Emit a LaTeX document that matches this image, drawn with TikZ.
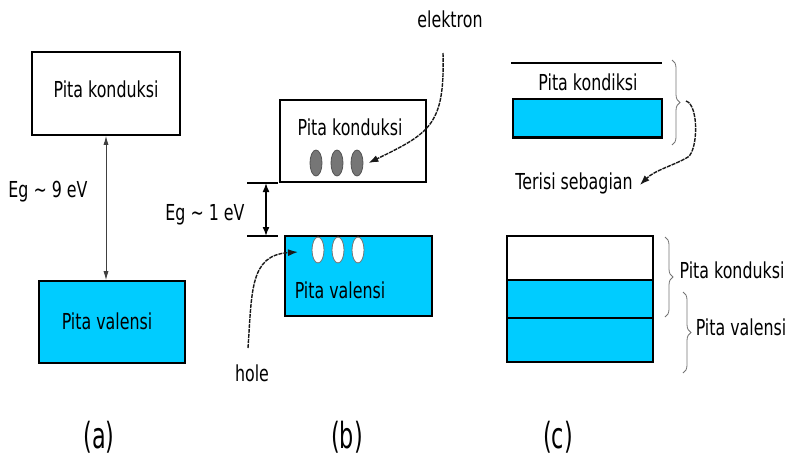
\documentclass[tikz,border=0pt]{standalone}
\usepackage{fontspec}
\setmainfont{DejaVu Sans}[FakeStretch=0.72]
\newfontfamily\capfont{DejaVu Sans}[FakeStretch=0.62]
\usetikzlibrary{arrows.meta,decorations.pathreplacing,calc,shapes.geometric}
\definecolor{bandblue}{RGB}{0,204,255}
\definecolor{egray}{RGB}{118,118,118}
\begin{document}
\begin{tikzpicture}[x=1pt,y=-1pt,
  band/.style={draw=black, line width=1.6pt, inner sep=0pt},
  blueband/.style={band, fill=bandblue},
  txt/.style={font=\fontsize{22}{26}\selectfont, inner sep=0pt},
  caption/.style={font=\capfont\fontsize{36}{40}\selectfont, inner sep=0pt},
  electron/.style={ellipse, draw=egray!70!black, fill=egray, line width=0.8pt, minimum width=12pt, minimum height=26pt, inner sep=0pt},
  holeshape/.style={ellipse, draw=egray, fill=white, line width=0.8pt, minimum width=12pt, minimum height=26pt, inner sep=0pt},
  gaparrowthin/.style={{Latex[length=9pt,width=5pt]}-{Latex[length=9pt,width=5pt]}, line width=0.9pt, draw=black!75},
  gaparrow/.style={{Latex[length=9pt,width=7pt]}-{Latex[length=9pt,width=7pt]}, line width=1.6pt},
  tick/.style={line width=1.6pt},
  pointer/.style={-{Latex[length=10pt,width=7pt]}, line width=1.4pt, draw=black!90, dash pattern=on 4pt off 1pt},
  bracestyle/.style={decorate, decoration={brace, amplitude=8pt}, line width=0.8pt, draw=black!55}
]
\useasboundingbox (0,0) rectangle (792,459);

% ---------- (a) ----------
\node[band, minimum width=148pt, minimum height=83pt] (aCB) at (106,93.5) {};
\node[txt] (aCBt) at (106,89) {Pita konduksi};
\node[blueband, minimum width=146pt, minimum height=82pt] (aVB) at (112,322) {};
\node[txt] (aVBt) at (107,321) {Pita valensi};
\draw[gaparrowthin] (aCB.south) -- (aCB.south |- aVB.north);
\node[txt] (aEg) at (48,192) {Eg \textasciitilde\ 9 eV};
\node[caption] (aLab) at (99,437) {(a)};

% ---------- (b) ----------
\node[band, minimum width=146pt, minimum height=82pt] (bCB) at (353,141) {};
\node[txt] (bCBt) at (350,127) {Pita konduksi};
\node[electron] (e1) at (316,163) {};
\node[electron] (e2) at (337,163) {};
\node[electron] (e3) at (357,163) {};
\node[blueband, minimum width=147pt, minimum height=80pt] (bVB) at (358.5,276) {};
\node[txt] (bVBt) at (340,290) {Pita valensi};
\node[holeshape] (h1) at (318,250) {};
\node[holeshape] (h2) at (338,250) {};
\node[holeshape] (h3) at (358,250) {};
\coordinate (t1a) at (247,183);
\coordinate (t1b) at (278,183);
\coordinate (t2a) at (247,236);
\coordinate (t2b) at (278,236);
\draw[tick] (t1a) -- (t1b);
\draw[tick] (t2a) -- (t2b);
\draw[gaparrow] (266,183) -- (266,236);
\node[txt] (bEg) at (205,215) {Eg \textasciitilde\ 1 eV};
\node[txt] (elab) at (450,19) {elektron};
\coordinate (estart) at (443,53);
\draw[pointer] (estart) .. controls (445,125) and (430,133) .. ($(e3.east)+(5,0)$);
\node[txt] (hlab) at (252,373) {hole};
\coordinate (hstart) at (248,348);
\coordinate (hend) at (298,252);
\draw[pointer] (hstart) .. controls (252,290) and (250,255) .. (hend);
\node[caption] (bLab) at (347,437) {(b)};

% ---------- (c) ----------
\coordinate (ctl) at (511,63);
\coordinate (ctr) at (662,63);
\draw[tick] (ctl) -- (ctr);
\node[txt] (cKt) at (588,82) {Pita kondiksi};
\node[blueband, minimum width=149pt, minimum height=38pt] (cTop) at (587.5,118) {};
\draw[line width=3pt] (cTop.south west) -- (cTop.south east);
\draw[bracestyle] (672,60) -- (672,145);
\coordinate (btip) at (686,101);
\node[txt] (terisi) at (574,183) {Terisi sebagian};
\draw[pointer] (btip) .. controls (699,105) and (698,150) .. (688,157)
   .. controls (675,165) and (655,170) .. ($(terisi.east)+(7,2)$);

\node[band, minimum width=146pt, minimum height=44pt] (cW) at (580,258) {};
\node[blueband, minimum width=146pt, minimum height=38pt] (cB1) at (580,299) {};
\node[blueband, minimum width=146pt, minimum height=44pt] (cB2) at (580,340) {};
\draw[bracestyle] (665,237) -- (665,317);
\draw[bracestyle] (683,292) -- (683,373);
\node[txt] (cKond) at (732,270) {Pita konduksi};
\node[txt] (cVal) at (741,327) {Pita valensi};
\node[caption] (cLab) at (558,437) {(c)};
\end{tikzpicture}
\end{document}
